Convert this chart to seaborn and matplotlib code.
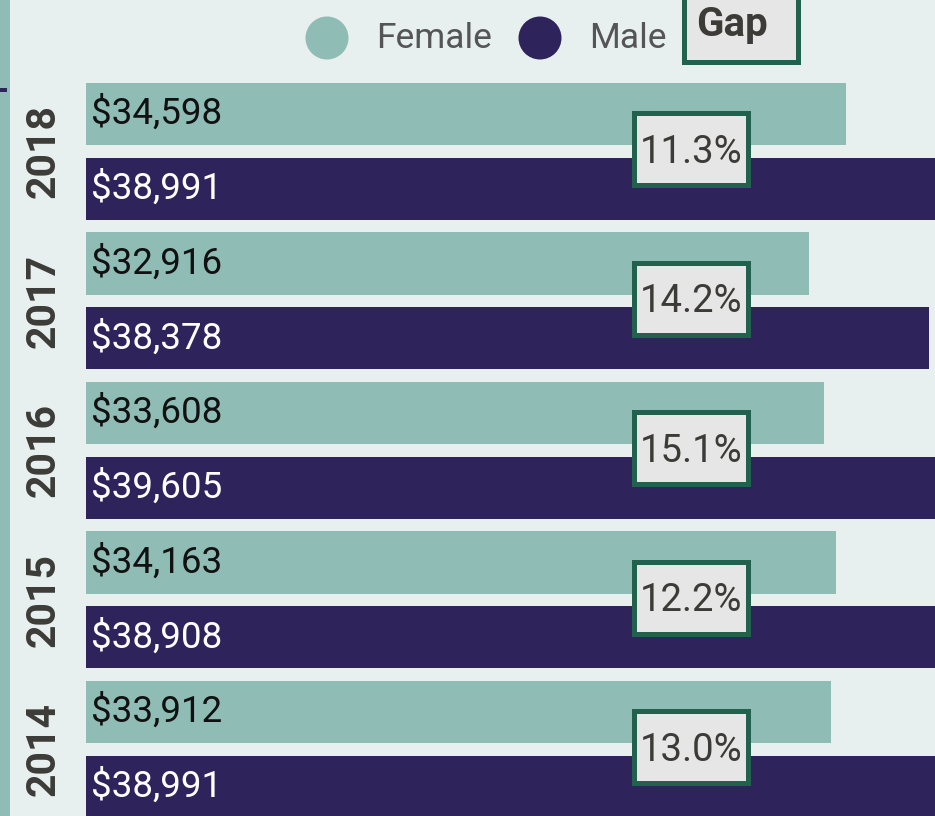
import matplotlib
matplotlib.use("Agg")
import matplotlib.pyplot as plt
import pandas as pd
import seaborn as sns
from matplotlib.patches import Rectangle

# data
years = ["2018", "2017", "2016", "2015", "2014"]
female_pay = [34598, 32916, 33608, 34163, 33912]
male_pay = [38991, 38378, 39605, 38908, 38991]
gap_pct = [11.3, 14.2, 15.1, 12.2, 13.0]

bg = "#e7f0ef"
female_color = "#8fbcb5"
male_color = "#2f235c"
box_edge = "#23614f"
box_fill = "#e6e6e6"
dark_text = "#3c3b37"

rows = []
for yr, f, m in zip(years, female_pay, male_pay):
    rows.append({"row": yr + " F", "sex": "Female", "pay": f})
    rows.append({"row": yr + " M", "sex": "Male", "pay": m})
df = pd.DataFrame(rows)

sns.set_theme(style="white")
plt.rcParams["font.family"] = ["Roboto", "DejaVu Sans"]

W, H = 935, 816
fig = plt.figure(figsize=(W / 100, H / 100), dpi=100, facecolor=bg)
ax = fig.add_axes([0, 0, 1, 1])
ax.set_facecolor(bg)


def fx(px):
    return px / W


def fy(py):
    return 1 - py / H


sns.barplot(data=df, x="pay", y="row", hue="sex", order=list(df["row"]),
            palette={"Female": female_color, "Male": male_color},
            dodge=False, width=0.83, saturation=1, linewidth=0,
            legend=False, ax=ax)

# scale: bars start 86px from the left, ~0.02197 px per dollar
px_per = 843 / 38378
ax.set_xlim(-86 / px_per, (W - 86) / px_per)
row_px = 74.75
ax.set_ylim((H - 114) / row_px, -114 / row_px)
ax.axis("off")

# value labels inside bars
for i, r in df.iterrows():
    col = "#111111" if r["sex"] == "Female" else "white"
    ax.annotate(f"${r['pay']:,}", (0, i), xytext=(3.8, 0), textcoords="offset points",
                ha="left", va="center", fontsize=26.5, color=col)

# gap boxes
gx = (691 - 86) / px_per
bw = 114 / px_per
bh = 72 / row_px
for j, g in enumerate(gap_pct):
    yc = 2 * j + 0.5
    ax.add_patch(Rectangle((gx - bw / 2, yc - bh / 2 - 0.03), bw, bh, facecolor=box_fill,
                           edgecolor=box_edge, linewidth=3.6, zorder=5))
    ax.text(gx, yc + 0.01, f"{g:.1f}%", ha="center", va="center", fontsize=27.5,
            color=dark_text, zorder=6)

# year labels
for j, yr in enumerate(years):
    yc_px = 114 + row_px * (2 * j + 0.5)
    fig.text(fx(44), fy(yc_px), yr, rotation=90, ha="center", va="center",
             fontsize=29.5, fontweight="bold", color=dark_text)

# left strip and small tick
fig.add_artist(Rectangle((0, 0), fx(10), 1, transform=fig.transFigure,
                         facecolor=female_color, edgecolor="none"))
fig.add_artist(Rectangle((0, fy(92)), fx(7), 4 / H, transform=fig.transFigure,
                         facecolor=male_color, edgecolor="none"))

# legend
ax.scatter([fx(327), fx(540)], [fy(38), fy(38)], s=958, c=[female_color, male_color],
           transform=fig.transFigure, clip_on=False, linewidths=0, zorder=7)
fig.text(fx(376), fy(38), "Female", ha="left", va="center", fontsize=25.5, color="#555555")
fig.text(fx(589), fy(38), "Male", ha="left", va="center", fontsize=25.5, color="#555555")
fig.add_artist(Rectangle((fx(683.5), fy(61.5)), fx(114), 80 / H, transform=fig.transFigure,
                         facecolor=box_fill, edgecolor=box_edge, linewidth=3.6))
fig.text(fx(732), fy(25), "Gap", ha="center", va="center", fontsize=29,
         fontweight="bold", color=dark_text)

fig.savefig("out.png", dpi=100, facecolor=bg)
